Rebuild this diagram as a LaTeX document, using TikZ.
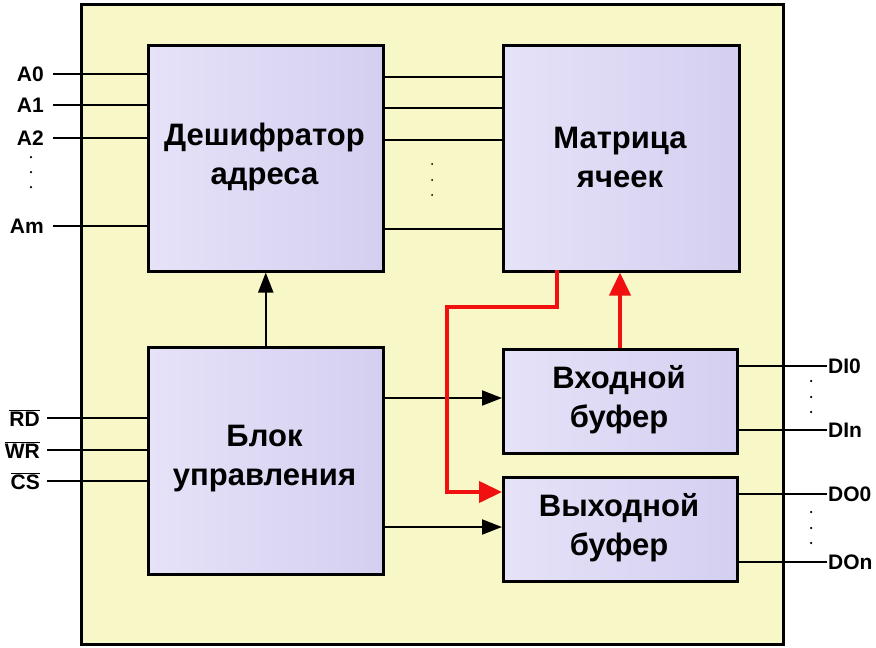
\documentclass[tikz,border=0pt]{standalone}
\usepackage{fontspec}
\setmainfont{Liberation Sans}
\usetikzlibrary{arrows.meta}
\begin{document}
\begin{tikzpicture}[x=1pt,y=-1pt,
  blk/.style={draw=black,line width=2.5pt,left color=lav1,right color=lav2,inner sep=0pt},
  sig/.style={line width=1.4pt},
  lbl/.style={font=\fontsize{21}{24}\selectfont\bfseries,inner sep=1pt},
  btxt/.style={font=\fontsize{31}{39}\selectfont\bfseries,align=center},
  blkarr/.style={line width=2pt,-{Triangle[length=20pt,width=15pt]}},
  redarr/.style={draw=redc,line width=4pt,line join=miter,-{Triangle[length=23pt,width=21pt]}},
  dotc/.style={fill=black,circle,inner sep=0pt,minimum size=2.5pt}
]
\definecolor{lav1}{HTML}{E6E2F8}
\definecolor{lav2}{HTML}{D4CFF0}
\definecolor{ylw}{HTML}{F8F7C8}
\definecolor{redc}{HTML}{F01010}
\useasboundingbox (0,0) rectangle (876,648);
\fill[white] (0,0) rectangle (876,648);
% outer block
\node[draw=black,line width=2.5pt,fill=ylw,inner sep=0pt,minimum width=702pt,minimum height=640pt,anchor=north west] (outer) at (80,3) {};
% blocks
\node[blk,minimum width=235pt,minimum height=226pt,anchor=north west] (dec) at (147,44) {};
\node[btxt] (dect) at (264.5,157) {Дешифратор\\адреса};
\node[blk,minimum width=236pt,minimum height=226pt,anchor=north west] (mat) at (502,44) {};
\node[btxt] (matt) at (620,157) {Матрица\\ячеек};
\node[blk,minimum width=235pt,minimum height=227pt,anchor=north west] (ctl) at (147,346) {};
\node[btxt] (ctlt) at (264.5,459) {Блок\\управления};
\node[blk,minimum width=234pt,minimum height=104pt,anchor=north west] (inb) at (502,348) {};
\node[btxt] (inbt) at (619,400) {Входной\\буфер};
\node[blk,minimum width=234pt,minimum height=104pt,anchor=north west] (outb) at (502,476) {};
\node[btxt] (outbt) at (619,528) {Выходной\\буфер};
% address inputs
\foreach \n/\t/\y in {a0/A0/74,a1/A1/105,a2/A2/138,am/Am/226}{
  \node[lbl,anchor=east] (\n) at (45,\y) {\t};
  \draw[sig] (\n.east) ++(8,0) coordinate (\n s) -- (dec.west |- \n s);
}
\foreach \y [count=\i] in {157,172,187}{\node[dotc] (ad\i) at (31,\y) {};}
% decoder to matrix
\foreach \y [count=\i] in {77,108,140,229}{
  \coordinate (dl\i) at (382,\y);
  \draw[sig] (dl\i) -- (mat.west |- dl\i);
}
\foreach \y [count=\i] in {164,180,195}{\node[dotc,minimum size=2pt] (md\i) at (432,\y) {};}
% control inputs
\node[lbl,anchor=east] (rd) at (41,418) {$\overline{\mbox{RD}}$};
\node[lbl,anchor=east] (wr) at (41,450) {$\overline{\mbox{WR}}$};
\node[lbl,anchor=east] (cs) at (41,481) {$\overline{\mbox{CS}}$};
\foreach \n in {rd,wr,cs}{
  \draw[sig] (\n.east) ++(6,0) coordinate (\n s) -- (ctl.west |- \n s);
}
% data outputs
\foreach \n/\t/\y/\b in {di0/DI0/366/inb,din/DIn/430/inb,do0/DO0/494/outb,don/DOn/562/outb}{
  \node[lbl,anchor=west] (\n) at (827,\y) {\t};
  \draw[sig] (\b.east |- \n.west) -- (\n.west);
}
\foreach \y [count=\i] in {381,397,412}{\node[dotc] (rd\i) at (811,\y) {};}
\foreach \y [count=\i] in {512,528,543}{\node[dotc] (rdo\i) at (811,\y) {};}
% black arrows
\draw[blkarr] (ctl.north) -- (dec.south);
\draw[blkarr] (ctl.east |- 0,398) coordinate (c1) -- (inb.west |- c1);
\draw[blkarr] (ctl.east |- 0,527) coordinate (c2) -- (outb.west |- c2);
% red arrows
\coordinate (rs) at (557,270);
\draw[redarr] (rs) -- (557,307) -- (447,307) -- (447,492) -- (outb.west |- 0,492);
\draw[redarr] (inb.north -| 620,0) -- (mat.south -| 620,0);
\end{tikzpicture}
\end{document}
